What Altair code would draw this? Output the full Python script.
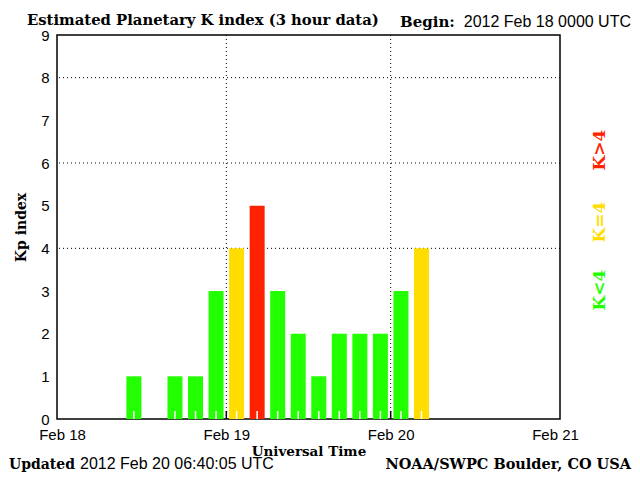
import altair as alt
import pandas as pd

# ---- data ----
slot_start_hours = [9, 15, 18, 21, 24, 27, 30, 33, 36, 39, 42, 45, 48, 51]
kp_values = [1, 1, 1, 3, 4, 5, 3, 2, 1, 2, 2, 2, 3, 4]
x_tick_hours = [0, 24, 48, 72]
x_tick_labels = ["Feb 18", "Feb 19", "Feb 20", "Feb 21"]
y_ticks = [0, 1, 2, 3, 4, 5, 6, 7, 8, 9]
y_grid = [4, 6, 8]
x_grid = [24, 48]
title_text = "Estimated Planetary K index (3 hour data)"
begin_label = "Begin:"
begin_value = "2012 Feb 18 0000 UTC"
updated_label = "Updated"
updated_value = "2012 Feb 20 06:40:05 UTC"
credit_text = "NOAA/SWPC Boulder, CO USA"
legend_texts = ["K<4", "K=4", "K>4"]
colors = ["#22ff00", "#ffdd00", "#ff2200"]

W, H = 503, 384
SERIF = "DejaVu Serif"
SANS = "Liberation Sans"

df = pd.DataFrame({"start": slot_start_hours, "kp": kp_values})

label_expr = "[" + ",".join("'%s'" % s for s in x_tick_labels) + "][round(datum.value/24)]"

xs = alt.Scale(domain=[0, 72], nice=False, zero=False)
ys = alt.Scale(domain=[0, 9], nice=False)

x_axis = alt.Axis(values=x_tick_hours, labelExpr=label_expr, grid=False, ticks=False, domain=False,
                  labelFont=SANS, labelFontSize=15, labelColor="black", labelPadding=8,
                  title="Universal Time", titleFont=SERIF, titleFontSize=13.5, titleFontWeight="bold",
                  titleColor="black", titlePadding=2)
y_axis = alt.Axis(values=y_ticks, grid=False, ticks=False, domain=False,
                  labelFont=SANS, labelFontSize=15, labelColor="black", labelPadding=8,
                  title="Kp index", titleFont=SERIF, titleFontSize=14, titleFontWeight="bold",
                  titleColor="black", titlePadding=12)

bars = alt.Chart(df).transform_calculate(
    mid="datum.start + 1.5",
    cat="datum.kp < 4 ? 'K<4' : (datum.kp == 4 ? 'K=4' : 'K>4')",
).mark_bar(size=15).encode(
    x=alt.X("mid:Q", scale=xs, axis=x_axis),
    y=alt.Y("kp:Q", scale=ys, axis=y_axis),
    color=alt.Color("cat:N", scale=alt.Scale(domain=legend_texts, range=colors), legend=None),
)

white_ticks = alt.Chart(df).transform_calculate(mid="datum.start + 1.5").mark_rule(
    color="white", strokeWidth=1.5
).encode(x=alt.X("mid:Q", scale=xs), y=alt.value(H), y2=alt.value(H - 8))

hgrid = alt.Chart(pd.DataFrame({"g": y_grid})).mark_rule(
    color="black", strokeDash=[1, 3], strokeWidth=1
).encode(y=alt.Y("g:Q", scale=ys))

vgrid = alt.Chart(pd.DataFrame({"g": x_grid})).mark_rule(
    color="black", strokeDash=[1, 3], strokeWidth=1
).encode(x=alt.X("g:Q", scale=xs))

inner_ticks = alt.Chart(pd.DataFrame({"g": x_grid})).mark_rule(
    color="black", strokeWidth=1.5
).encode(x=alt.X("g:Q", scale=xs), y=alt.value(H), y2=alt.value(H - 8))


def txt(s, x, y, font, size, weight="normal", align="left", color="black", angle=0, baseline="alphabetic"):
    kw = dict(font=font, fontSize=size, fontWeight=weight, align=align, color=color, baseline=baseline)
    if angle:
        kw["angle"] = angle
    return alt.Chart(pd.DataFrame({"t": [s]})).mark_text(**kw).encode(
        text="t:N", x=alt.value(x), y=alt.value(y)
    )


texts = [
    txt(title_text, 27 - 57, 25 - 35, SERIF, 14.8, "bold"),
    txt(begin_label, 400 - 57, 27 - 35, SERIF, 15, "bold"),
    txt(begin_value, 631 - 57, 27 - 35, SANS, 16, align="right"),
    txt(updated_label, 9 - 57, 469 - 35, SERIF, 14, "bold"),
    txt(updated_value, 80 - 57, 469 - 35, SANS, 16),
    txt(credit_text, 631 - 57, 469 - 35, SERIF, 14.5, "bold", align="right"),
    txt(legend_texts[0], 600 - 57, 290 - 35, SERIF, 17, "bold", align="center", color=colors[0], angle=270, baseline="middle"),
    txt(legend_texts[1], 600 - 57, 222 - 35, SERIF, 17, "bold", align="center", color=colors[1], angle=270, baseline="middle"),
    txt(legend_texts[2], 600 - 57, 150 - 35, SERIF, 17, "bold", align="center", color=colors[2], angle=270, baseline="middle"),
]

chart = alt.layer(hgrid, vgrid, bars, white_ticks, inner_ticks, *texts).properties(
    width=W, height=H,
    autosize=alt.AutoSizeParams(type="none"),
    padding={"left": 49, "top": 27, "right": 72, "bottom": 53},
    background="white",
).configure_view(stroke="black", strokeWidth=1.5)

chart.save("out.html", embed_options={"renderer": "svg", "actions": False})
